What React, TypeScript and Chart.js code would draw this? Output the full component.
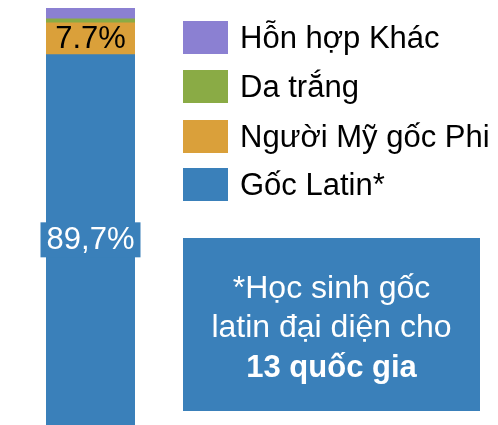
import React, { useEffect, useRef } from "react";
import { Chart, registerables } from "chart.js";

Chart.register(...registerables);

const categories = ["Học sinh"];
const seriesNames = ["Gốc Latin*", "Người Mỹ gốc Phi", "Da trắng", "Hỗn hợp Khác"];
const latinValues = [89.7];
const africanValues = [7.7];
const whiteValues = [1.0];
const mixedValues = [2.6];
const seriesColors = ["#3A80BA", "#DAA03A", "#8AAB45", "#8B80D2"];
const barLabels = ["89,7%", "7.7%", "", ""];
const noteLines = ["*Học sinh gốc", "latin đại diện cho", "13 quốc gia"];

const FONT = '"Liberation Sans", Arial, sans-serif';

const overlayPlugin = {
  id: "overlay",
  afterDatasetsDraw(chart: any) {
    const ctx = chart.ctx as CanvasRenderingContext2D;
    ctx.save();
    // bar labels
    chart.data.datasets.forEach((ds: any, i: number) => {
      const label = barLabels[i];
      if (!label) return;
      const meta = chart.getDatasetMeta(i);
      const el = meta.data[0];
      if (!el) return;
      const cx = el.x;
      const cy = (el.y + el.base) / 2;
      ctx.font = `31px ${FONT}`;
      ctx.textAlign = "center";
      ctx.textBaseline = "middle";
      if (i === 0) {
        const w = 100;
        ctx.fillStyle = seriesColors[0];
        ctx.fillRect(cx - w / 2, cy - 17.5, w, 35);
        ctx.fillStyle = "#ffffff";
      } else {
        ctx.fillStyle = "#000000";
      }
      ctx.fillText(label, cx, cy + 1);
    });

    // legend (top to bottom: reversed series order)
    const order = [3, 2, 1, 0];
    const tops = [13, 62, 112, 160];
    order.forEach((si, k) => {
      ctx.fillStyle = seriesColors[si];
      ctx.fillRect(175, tops[k], 45, 33);
      ctx.fillStyle = "#000000";
      ctx.font = `31px ${FONT}`;
      ctx.textAlign = "left";
      ctx.textBaseline = "middle";
      ctx.fillText(seriesNames[si], 232, tops[k] + 18);
    });

    // note box
    ctx.fillStyle = seriesColors[0];
    ctx.fillRect(175, 230, 297, 173);
    ctx.fillStyle = "#ffffff";
    ctx.textAlign = "center";
    ctx.textBaseline = "middle";
    const ys = [281, 320, 360];
    noteLines.forEach((line, i) => {
      ctx.font = i === 2 ? `bold 31px ${FONT}` : `32px ${FONT}`;
      ctx.fillText(line, 323.5, ys[i]);
    });
    ctx.restore();
  },
};

export default function App() {
  const ref = useRef<HTMLCanvasElement>(null);
  useEffect(() => {
    document.documentElement.style.overflow = "hidden";
    document.body.style.overflow = "hidden";
    const total =
      latinValues[0] + africanValues[0] + whiteValues[0] + mixedValues[0];
    const chart = new Chart(ref.current!, {
      type: "bar",
      data: {
        labels: categories,
        datasets: [latinValues, africanValues, whiteValues, mixedValues].map(
          (d, i) => ({
            label: seriesNames[i],
            data: d,
            backgroundColor: seriesColors[i],
            borderWidth: 0,
            barPercentage: 1,
            categoryPercentage: 1,
          })
        ),
      },
      options: {
        responsive: false,
        animation: false,
        layout: { padding: { left: 38, right: 355, top: 0, bottom: 0 } },
        plugins: { legend: { display: false }, tooltip: { enabled: false } },
        scales: {
          x: { stacked: true, display: false },
          y: { stacked: true, display: false, min: 0, max: total },
        },
      },
      plugins: [overlayPlugin],
    });
    return () => chart.destroy();
  }, []);
  return (
    <div style={{ width: 482, height: 417 }}>
      <canvas ref={ref} width={482} height={417} style={{ display: "block" }} />
    </div>
  );
}
